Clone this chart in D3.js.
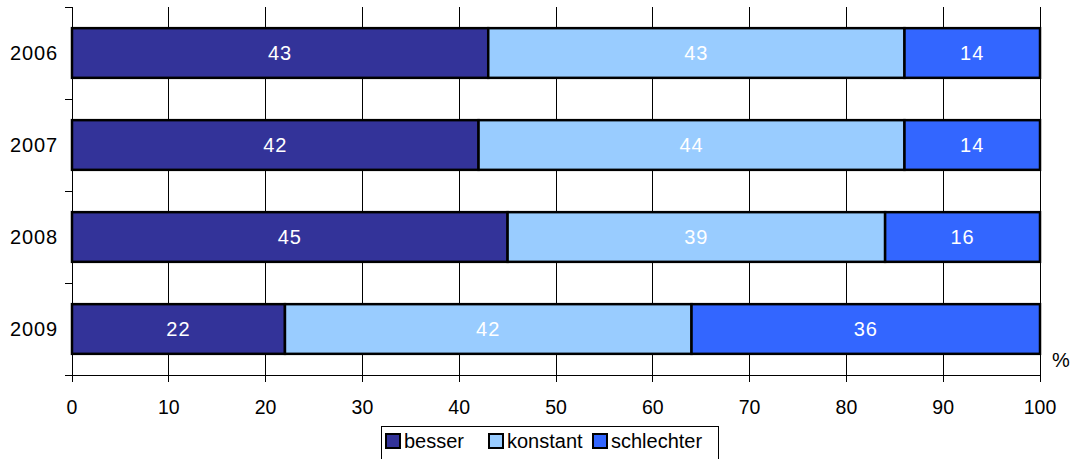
<!DOCTYPE html>
<html>
<head>
<meta charset="utf-8">
<script src="https://cdn.jsdelivr.net/npm/d3@7"></script>
<style>
  html, body { margin: 0; padding: 0; background: #fff; }
  svg { display: block; font-family: "Liberation Sans", Arial, sans-serif; }
</style>
</head>
<body>
<svg id="chart" width="1077" height="459"></svg>
<script>
// Survey shares per year (percent)
const years = ["2006", "2007", "2008", "2009"];
const seriesNames = ["besser", "konstant", "schlechter"];
const besser = [43, 42, 45, 22];
const konstant = [43, 44, 39, 42];
const schlechter = [14, 14, 16, 36];
const xTicks = [0, 10, 20, 30, 40, 50, 60, 70, 80, 90, 100];
const colors = ["#333399", "#99CCFF", "#3366FF"];

const svg = d3.select("#chart");
const plotLeft = 72, plotRight = 1040, plotTop = 7, plotBottom = 375;

const x = d3.scaleLinear().domain([0, 100]).range([plotLeft, plotRight]);
const y = d3.scaleBand().domain(years).range([plotTop, plotBottom])
  .paddingInner(0.46).paddingOuter(0.23);

// vertical gridlines
svg.append("g").selectAll("line").data(xTicks.slice(1)).join("line")
  .attr("x1", d => x(d)).attr("x2", d => x(d))
  .attr("y1", plotTop).attr("y2", plotBottom)
  .attr("stroke", "#000").attr("stroke-width", 1)
  .attr("shape-rendering", "crispEdges");

// stacked rows
const rows = years.map((yr, i) => ({ year: yr, besser: besser[i], konstant: konstant[i], schlechter: schlechter[i] }));
const stack = d3.stack().keys(seriesNames)(rows);

const layers = svg.append("g").selectAll("g").data(stack).join("g")
  .attr("fill", (d, i) => colors[i]);

layers.selectAll("rect").data(d => d).join("rect")
  .attr("x", d => x(d[0]))
  .attr("y", d => y(d.data.year))
  .attr("width", d => x(d[1]) - x(d[0]))
  .attr("height", y.bandwidth())
  .attr("stroke", "#000").attr("stroke-width", 2.5);

// value labels
layers.selectAll("text").data(d => d.map(v => ({ v, key: d.key }))).join("text")
  .attr("x", d => (x(d.v[0]) + x(d.v[1])) / 2)
  .attr("y", d => y(d.v.data.year) + y.bandwidth() / 2)
  .attr("dy", "0.36em")
  .attr("text-anchor", "middle")
  .attr("fill", "#fff")
  .attr("font-size", 20)
  .attr("letter-spacing", 1)
  .text(d => d.v.data[d.key]);

// y axis line and ticks at band boundaries
const axisG = svg.append("g").attr("shape-rendering", "crispEdges");
axisG.append("line").attr("x1", plotLeft).attr("x2", plotLeft).attr("y1", plotTop).attr("y2", plotBottom + 7)
  .attr("stroke", "#000");
const yTickPos = [plotTop].concat(years.map(yr => y(yr) + y.bandwidth() + (y.step() - y.bandwidth()) / 2));
axisG.selectAll(".yt").data(yTickPos).join("line").attr("class", "yt")
  .attr("x1", plotLeft - 7).attr("x2", plotLeft).attr("y1", d => d).attr("y2", d => d)
  .attr("stroke", "#000");

// year labels
svg.append("g").selectAll("text").data(years).join("text")
  .attr("x", 58).attr("y", d => y(d) + y.bandwidth() / 2)
  .attr("dy", "0.34em").attr("text-anchor", "end")
  .attr("font-size", 20).attr("letter-spacing", 0.9).attr("fill", "#000")
  .text(d => d);

// x axis
axisG.append("line").attr("x1", plotLeft - 7).attr("x2", plotRight).attr("y1", plotBottom).attr("y2", plotBottom)
  .attr("stroke", "#000");
axisG.selectAll(".xt").data(xTicks).join("line").attr("class", "xt")
  .attr("x1", d => x(d)).attr("x2", d => x(d)).attr("y1", plotBottom).attr("y2", plotBottom + 7)
  .attr("stroke", "#000");
svg.append("g").selectAll("text").data(xTicks).join("text")
  .attr("x", d => x(d)).attr("y", 414)
  .attr("text-anchor", "middle").attr("font-size", 19.5).attr("fill", "#000")
  .text(d => d);

// unit label
svg.append("text").attr("x", 1052).attr("y", 367).attr("font-size", 20).attr("fill", "#000").text("%");

// legend
const lg = svg.append("g");
lg.append("rect").attr("x", 381.5).attr("y", 426.5).attr("width", 337).attr("height", 40)
  .attr("fill", "#fff").attr("stroke", "#000").attr("stroke-width", 1);
const legendX = [386, 489, 593];
const items = lg.selectAll("g").data(seriesNames).join("g")
  .attr("transform", (d, i) => `translate(${legendX[i]},434)`);
items.append("rect").attr("width", 14).attr("height", 14)
  .attr("fill", (d, i) => colors[i]).attr("stroke", "#000").attr("stroke-width", 2);
items.append("text").attr("x", 18).attr("y", 7).attr("dy", "0.36em")
  .attr("font-size", 20).attr("fill", "#000").text(d => d);
</script>
</body>
</html>
